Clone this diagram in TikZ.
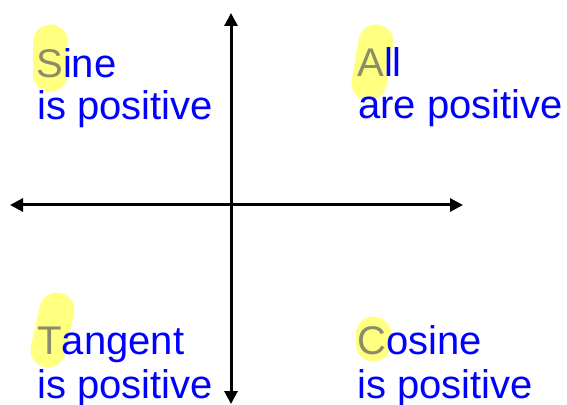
\documentclass[tikz,border=0pt]{standalone}
\usepackage{fontspec}
\setmainfont{Liberation Sans}
\usetikzlibrary{arrows.meta, positioning}
\definecolor{qblue}{RGB}{0,0,255}
\definecolor{qhigh}{RGB}{255,255,128}
\definecolor{qgray}{RGB}{140,140,105}

\begin{document}
\begin{tikzpicture}[x=0.5pt, y=-0.5pt,
  quadtext/.style={anchor=base west, inner sep=0pt, text=qblue, font=\fontsize{20}{21}\selectfont},
  axisline/.style={{Triangle[length=6.5pt,width=6.5pt]}-{Triangle[length=6.5pt,width=6.5pt]}, line width=1.5pt},
  blob/.style={draw=qhigh, line width=17.5pt, line cap=round}
]
\useasboundingbox (0,0) rectangle (567,405);
% axes
\coordinate (ytop) at (231,13);
\coordinate (ybot) at (231,404);
\coordinate (xleft) at (10,205);
\coordinate (xright) at (463,205);
\draw[axisline] (ybot) -- (ytop);
\draw[axisline] (xleft) -- (xright);
% highlights
\draw[blob] (50,42) -- (50,74);
\draw[blob] (376,42) -- (369,83);
\draw[blob] (57,310) -- (48,350);
\draw[blob] (373,334) -- (373,344);
% quadrant texts
\node[quadtext] (sine) at (36,78) {\textcolor{qgray}{S}ine};
\node[quadtext] (sinepos) at (37,120) {is positive};
\node[quadtext] (all) at (357,77) {\textcolor{qgray}{A}ll};
\node[quadtext] (allpos) at (358,119) {are positive};
\node[quadtext] (tangent) at (37,355) {\textcolor{qgray}{T}angent};
\node[quadtext] (tanpos) at (37,398) {is positive};
\node[quadtext] (cosine) at (357,355) {\textcolor{qgray}{C}osine};
\node[quadtext] (cospos) at (357,398) {is positive};
\end{tikzpicture}
\end{document}
